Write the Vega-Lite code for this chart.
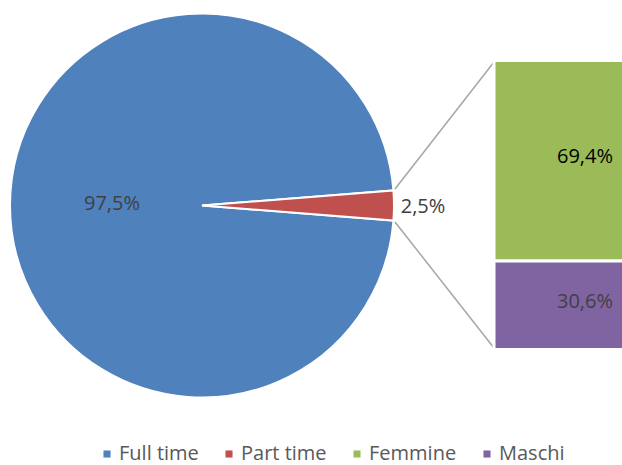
{
  "$schema": "https://vega.github.io/schema/vega-lite/v6.json",
  "width": 622,
  "height": 465,
  "padding": 0,
  "autosize": {"type": "none"},
  "background": "white",
  "config": {"view": {"stroke": null}, "font": "Open Sans"},
  "datasets": {
    "pie": [
      {"cat": "Full time", "pct": 97.5, "ord": 1, "label": "97,5%"},
      {"cat": "Part time", "pct": 2.5, "ord": 2, "label": "2,5%"}
    ],
    "bar": [
      {"cat": "Femmine", "pct": 69.4, "ord": 1, "label": "69,4%"},
      {"cat": "Maschi", "pct": 30.6, "ord": 2, "label": "30,6%"}
    ]
  },
  "resolve": {"scale": {"y": "independent"}},
  "layer": [
    {
      "data": {"name": "pie"},
      "mark": {"type": "arc", "outerRadius": 192, "stroke": "white", "strokeWidth": 2},
      "encoding": {
        "theta": {"field": "pct", "type": "quantitative", "stack": true, "scale": {"range": [1.6493, 7.9325]}},
        "order": {"field": "ord"},
        "color": {
          "field": "cat", "type": "nominal",
          "scale": {"domain": ["Full time", "Part time", "Femmine", "Maschi"], "range": ["#4F81BD", "#C0504D", "#9BBB59", "#8064A2"]},
          "legend": {
            "orient": "none", "legendX": 97, "legendY": 444, "direction": "horizontal", "title": null,
            "symbolType": "square", "symbolSize": 50, "symbolStrokeWidth": 0,
            "labelFontSize": 20, "labelColor": "#595959", "labelFont": "Open Sans",
            "columnPadding": 20, "labelOffset": 2
          }
        },
        "x": {"datum": 202, "type": "quantitative", "scale": {"domain": [0, 622], "range": [0, 622]}, "axis": null},
        "y": {"datum": 205.5, "type": "quantitative", "scale": {"domain": [0, 465], "range": [0, 465]}, "axis": null}
      }
    },
    {
      "data": {"name": "pie"},
      "mark": {"type": "text", "radius": 90, "fontSize": 20, "fill": "#404040", "align": "center", "baseline": "middle", "dy": -2},
      "encoding": {
        "theta": {"field": "pct", "type": "quantitative", "stack": true},
        "order": {"field": "ord"},
        "detail": {"field": "cat"},
        "text": {"condition": {"test": "datum.cat === 'Full time'", "field": "label"}, "value": ""},
        "x": {"datum": 202, "type": "quantitative", "scale": {"domain": [0, 622], "range": [0, 622]}, "axis": null},
        "y": {"datum": 205.5, "type": "quantitative", "scale": {"domain": [0, 465], "range": [0, 465]}, "axis": null}
      }
    },
    {
      "data": {"name": "pie"},
      "mark": {"type": "text", "radius": 221, "fontSize": 20, "fill": "#404040", "align": "center", "baseline": "middle", "dy": 2},
      "encoding": {
        "theta": {"field": "pct", "type": "quantitative", "stack": true},
        "order": {"field": "ord"},
        "detail": {"field": "cat"},
        "text": {"condition": {"test": "datum.cat === 'Part time'", "field": "label"}, "value": ""},
        "x": {"datum": 202, "type": "quantitative", "scale": {"domain": [0, 622], "range": [0, 622]}, "axis": null},
        "y": {"datum": 205.5, "type": "quantitative", "scale": {"domain": [0, 465], "range": [0, 465]}, "axis": null}
      }
    },
    {
      "data": {"values": [{}]},
      "mark": {"type": "rule", "color": "#A6A6A6", "strokeWidth": 1.5},
      "encoding": {
        "x": {"datum": 395, "type": "quantitative", "scale": {"domain": [0, 622], "range": [0, 622]}, "axis": null},
        "x2": {"datum": 494},
        "y": {"datum": 189, "type": "quantitative", "scale": {"domain": [0, 465], "range": [0, 465]}, "axis": null},
        "y2": {"datum": 62}
      }
    },
    {
      "data": {"values": [{}]},
      "mark": {"type": "rule", "color": "#A6A6A6", "strokeWidth": 1.5},
      "encoding": {
        "x": {"datum": 395, "type": "quantitative", "scale": {"domain": [0, 622], "range": [0, 622]}, "axis": null},
        "x2": {"datum": 494},
        "y": {"datum": 222, "type": "quantitative", "scale": {"domain": [0, 465], "range": [0, 465]}, "axis": null},
        "y2": {"datum": 348}
      }
    },
    {
      "data": {"name": "bar"},
      "transform": [{"stack": "pct", "groupby": [], "sort": [{"field": "ord", "order": "descending"}], "as": ["y0", "y1"]}],
      "mark": {"type": "rect", "stroke": "white", "strokeWidth": 3},
      "encoding": {
        "x": {"datum": 494, "type": "quantitative", "scale": {"domain": [0, 622], "range": [0, 622]}, "axis": null},
        "x2": {"datum": 626},
        "y": {"field": "y0", "type": "quantitative", "scale": {"domain": [0, 100], "range": [349.5, 60.5]}, "axis": null},
        "y2": {"field": "y1"},
        "color": {"field": "cat", "type": "nominal"}
      }
    },
    {
      "data": {"name": "bar"},
      "transform": [
        {"stack": "pct", "groupby": [], "sort": [{"field": "ord", "order": "descending"}], "as": ["y0", "y1"]},
        {"calculate": "(datum.y0 + datum.y1) / 2", "as": "ymid"}
      ],
      "mark": {"type": "text", "fontSize": 20, "align": "center", "baseline": "middle", "dy": -3.5},
      "encoding": {
        "x": {"datum": 585, "type": "quantitative", "scale": {"domain": [0, 622], "range": [0, 622]}, "axis": null},
        "y": {"field": "ymid", "type": "quantitative", "scale": {"domain": [0, 100], "range": [349.5, 60.5]}, "axis": null},
        "text": {"field": "label"},
        "fill": {"condition": {"test": "datum.cat === 'Femmine'", "value": "#000000"}, "value": "#404040"}
      }
    }
  ]
}
